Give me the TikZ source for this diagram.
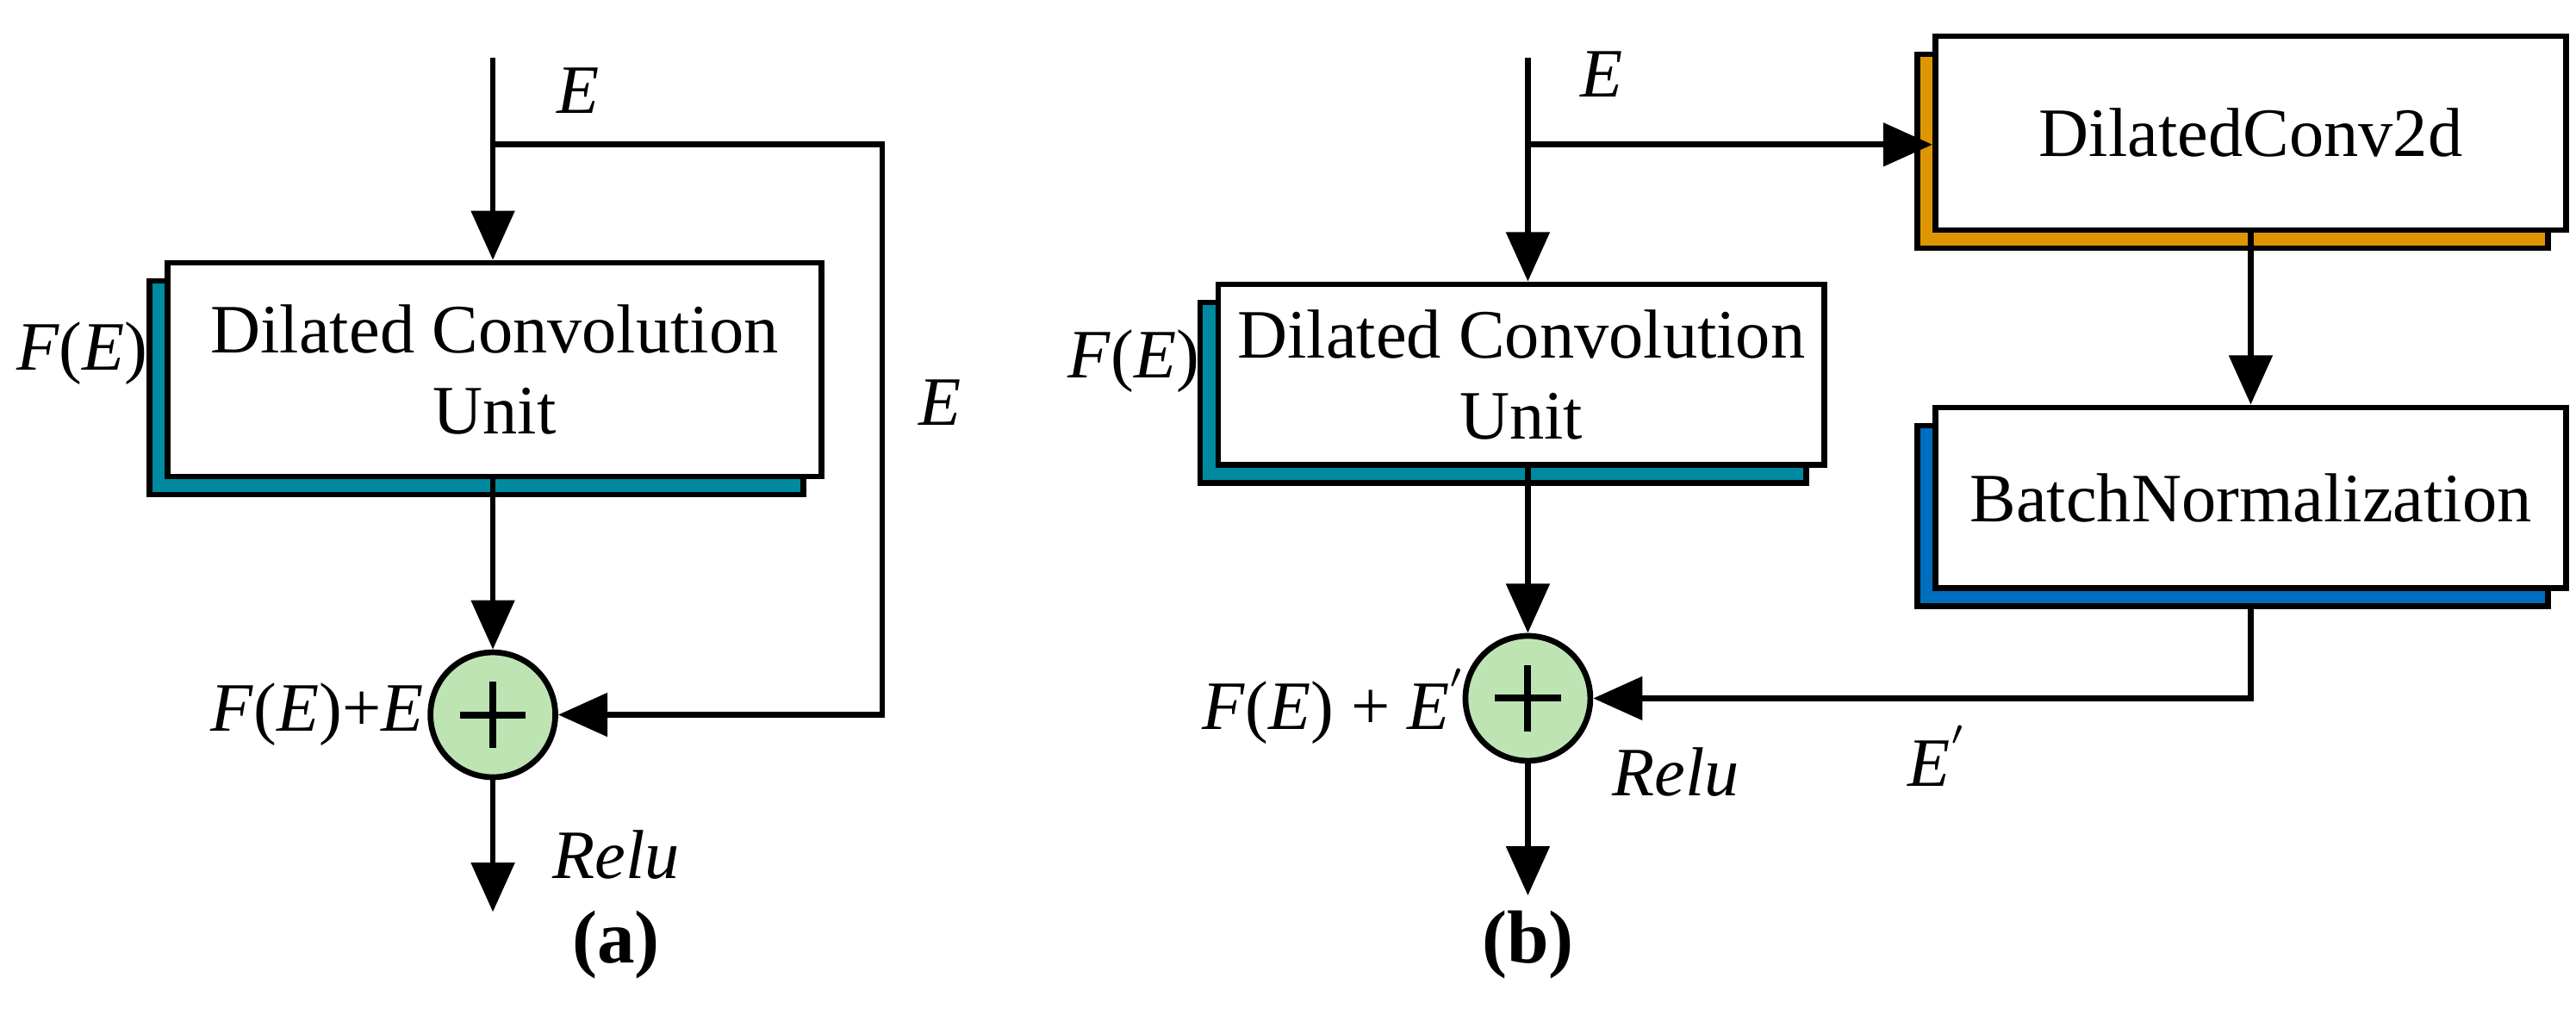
\documentclass[tikz,border=0pt]{standalone}
\usepackage{fontspec}
\setmainfont{Liberation Serif}
\usetikzlibrary{shadows,arrows.meta,calc}
\definecolor{unitteal}{RGB}{0,138,160}
\definecolor{convorange}{RGB}{222,150,0}
\definecolor{bnblue}{RGB}{0,110,190}
\definecolor{addgreen}{RGB}{190,228,180}
\tikzset{
  blk/.style={draw, line width=1pt, fill=white, align=center, font=\fontsize{12}{14}\selectfont,
    copy shadow={shadow xshift=-1.1mm, shadow yshift=-1.1mm, fill=#1, draw=black, line width=1pt}},
  add/.style={circle, draw, line width=1pt, fill=addgreen, minimum size=7.6mm, inner sep=0pt},
  flow/.style={line width=1pt, -{Triangle[length=3mm,width=2.6mm]}},
  lbl/.style={font=\fontsize{12}{14}\selectfont, inner sep=1pt}
}
\begin{document}
\begin{tikzpicture}[x=1cm,y=-1cm]
\useasboundingbox (0,0) rectangle (15.68,6.14);
% (a)
\coordinate (inA) at (3.00,0.35);
\coordinate (brA) at (3.00,0.88);
\node[blk=unitteal, minimum width=3.98cm, minimum height=1.3cm] (dcuA) at (3.01,2.25) {Dilated Convolution\\Unit};
\node[add] (addA) at (3.00,4.35) {};
\draw[line width=1.2pt] ($(addA)+(-0.2,0)$) -- ++(0.4,0) ($(addA)+(0,-0.2)$) -- ++(0,0.4);
\coordinate (outA) at (3.00,5.55);
\draw[flow] (inA) -- (dcuA.north -| inA);
\draw[flow] (brA) -| (5.37,4.35) -- (addA.east);
\draw[flow] (dcuA.south -| addA) -- (addA.north);
\draw[flow] (addA.south) -- (outA);
\node[lbl] at (3.52,0.55) {\textit{E}};
\node[lbl] at (5.72,2.45) {\textit{E}};
\node[lbl] at (0.50,2.15) {\textit{F}(\textit{E})};
\node[lbl, anchor=east] at (2.62,4.35) {\textit{F}(\textit{E})+\textit{E}};
\node[lbl] at (3.75,5.2) {\textit{Relu}};
\node[font=\fontsize{13}{15}\selectfont\bfseries] at (3.75,5.75) {(a)};
% (b)
\coordinate (inB) at (9.30,0.35);
\coordinate (brB) at (9.30,0.88);
\node[blk=convorange, minimum width=3.84cm, minimum height=1.18cm] (conv) at (13.70,0.81) {DilatedConv2d};
\node[blk=bnblue, minimum width=3.84cm, minimum height=1.1cm] (bn) at (13.70,3.03) {BatchNormalization};
\node[blk=unitteal, minimum width=3.65cm, minimum height=1.1cm] (dcuB) at (9.26,2.28) {Dilated Convolution\\Unit};
\node[add] (addB) at (9.30,4.25) {};
\draw[line width=1.2pt] ($(addB)+(-0.2,0)$) -- ++(0.4,0) ($(addB)+(0,-0.2)$) -- ++(0,0.4);
\coordinate (outB) at (9.30,5.45);
\draw[flow] (inB) -- (dcuB.north -| inB);
\draw[flow] (brB) -- (brB -| conv.west);
\draw[flow] (conv.south) -- (bn.north);
\draw[flow] ([yshift=-1.1mm]bn.south) |- (addB.east);
\draw[flow] (dcuB.south -| addB) -- (addB.north);
\draw[flow] (addB.south) -- (outB);
\node[lbl] at (9.75,0.45) {\textit{E}};
\node[lbl] at (6.90,2.2) {\textit{F}(\textit{E})};
\node[lbl, anchor=east] at (8.98,4.3) {\textit{F}(\textit{E}) + \textit{E}$^{'}$};
\node[lbl] at (11.80,4.6) {\textit{E}$^{'}$};
\node[lbl] at (10.20,4.7) {\textit{Relu}};
\node[font=\fontsize{13}{15}\selectfont\bfseries] at (9.30,5.75) {(b)};
\end{tikzpicture}
\end{document}
